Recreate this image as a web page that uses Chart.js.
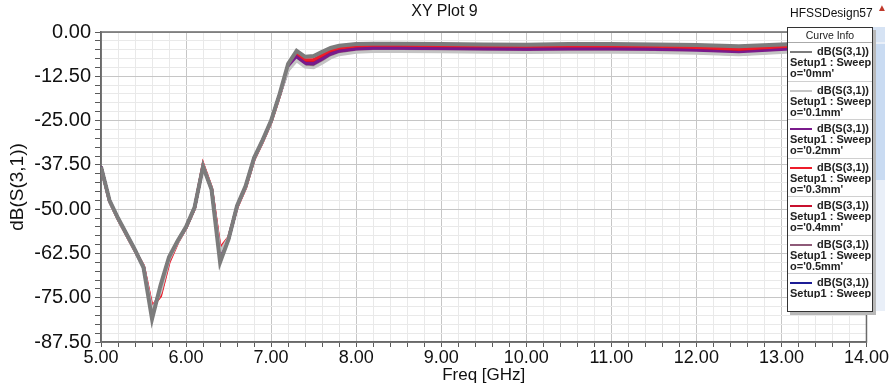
<!DOCTYPE html>
<html>
<head>
<meta charset="utf-8">
<script src="https://cdn.jsdelivr.net/npm/chart.js@4.4.1/dist/chart.umd.min.js"></script>
<style>
  body { margin: 0; background: #fff; font-family: "Liberation Sans", Arial, sans-serif; }
  #wrap { position: relative; width: 889px; height: 386px; overflow: hidden; }
  #myChart { position: absolute; left: 0; top: 0; }
  #plotTitle { position: absolute; left: 0; width: 889px; top: 2px; text-align: center; font-size: 16px; color: #111; }
  #designName { position: absolute; left: 790px; top: 6px; font-size: 12px; color: #111; }
  #warn { position: absolute; left: 877px; top: 2px; font-size: 10px; color: #c0392b; }
  #legendBox { position: absolute; left: 787px; top: 27px; width: 84px; height: 283px; background: #fff;
               border: 1px solid #333; box-shadow: 3px 3px 0 #b8b8b8; overflow: hidden; }
  #legendBox .head { height: 14px; line-height: 14px; text-align: center; font-size: 10.5px; color: #222;
                     border-bottom: 1px solid #aaa; }
  #legendInner { height: 255px; overflow: hidden; }
  #legendBox .entry { box-sizing: border-box; height: 38.5px; border-bottom: 1px solid #d0d0d0; padding: 3px 1px 0 2px;
                      font-size: 11px; font-weight: bold; color: #222; line-height: 11px; white-space: nowrap; overflow: hidden; }
  #legendBox .l1 { text-align: right; padding-right: 2px; }
  #legendBox .swatch { display: inline-block; width: 22px; height: 2px; float: left; margin-top: 5px; }
  #scrollTrack { position: absolute; left: 873px; top: 27px; width: 12px; height: 284px; background: #e9eff8; }
  #scrollThumb { position: absolute; left: 873px; top: 44px; width: 12px; height: 136px; background: #c9dbf2; }
  #scrollUp { position: absolute; left: 873px; top: 27px; width: 12px; height: 15px; background: #d6e3f4; }
</style>
</head>
<body>
<div id="wrap">
  <canvas id="myChart" width="889" height="386"></canvas>
  <div id="plotTitle">XY Plot 9</div>
  <div id="designName">HFSSDesign57</div>
  <div id="warn">▲</div>
  <div id="scrollTrack"></div>
  <div id="scrollUp"></div>
  <div id="scrollThumb"></div>
  <div id="legendBox"><div class="head">Curve Info</div><div id="legendInner"></div></div>
</div>
<script>
// frequency points [GHz]
var freqs = [5.0, 5.1, 5.2, 5.3, 5.4, 5.5, 5.6, 5.7, 5.8, 5.9, 6.0, 6.1, 6.2, 6.3, 6.4, 6.5, 6.6, 6.7, 6.8, 6.9,
             7.0, 7.1, 7.2, 7.3, 7.4, 7.5, 7.6, 7.7, 7.8, 8.0, 8.2, 8.5, 9.0, 9.5, 10.0, 10.5, 11.0, 11.5, 12.0, 12.5,
             13.0, 13.5, 14.0];

// dB(S(3,1)) per sweep value o
var s31_0mm  = [-38.0,-47.5,-52.5,-57.0,-61.5,-66.5,-81.0,-71.5,-63.5,-59.0,-55.0,-49.5,-38.0,-44.5,-65.0,-58.5,-49.0,-43.5,-35.5,-30.5,
                -25.0,-17.5,-9.0,-5.3,-7.0,-6.8,-5.6,-4.5,-3.9,-3.4,-3.3,-3.3,-3.4,-3.5,-3.6,-3.4,-3.4,-3.5,-3.7,-4.0,
                -3.5,-3.0,-2.8];
var s31_01mm = [-38.2,-47.9,-52.9,-57.3,-61.9,-66.1,-78.5,-73.5,-64.3,-59.4,-55.2,-49.7,-37.6,-44.1,-62.0,-58.1,-49.3,-43.9,-35.9,-30.9,
                -25.4,-17.9,-10.9,-8.1,-9.9,-10.1,-8.8,-7.3,-6.4,-5.7,-5.5,-5.5,-5.6,-5.7,-5.8,-5.7,-5.7,-5.8,-6.0,-6.4,
                -5.8,-5.1,-4.7];
var s31_02mm = [-38.0,-47.6,-52.6,-57.1,-61.6,-66.3,-79.0,-73.0,-64.0,-59.2,-55.1,-49.6,-37.8,-44.4,-62.5,-58.4,-49.2,-43.7,-35.7,-30.7,
                -25.2,-17.7,-10.3,-7.0,-8.8,-8.9,-7.6,-6.2,-5.4,-4.8,-4.6,-4.6,-4.7,-4.8,-4.9,-4.8,-4.8,-4.9,-5.2,-5.8,
                -5.0,-4.3,-3.9];
var s31_03mm = [-38.2,-47.8,-52.8,-57.3,-61.8,-66.0,-77.5,-74.5,-65.0,-59.5,-55.3,-49.8,-37.3,-44.0,-61.0,-58.0,-49.5,-44.0,-36.0,-31.0,
                -25.5,-18.0,-9.8,-6.0,-7.8,-7.8,-6.5,-5.2,-4.5,-4.0,-3.8,-3.8,-3.9,-4.0,-4.1,-4.0,-4.0,-4.1,-4.4,-4.8,
                -4.2,-3.6,-3.3];
var s31_04mm = [-38.1,-47.7,-52.7,-57.2,-61.7,-66.2,-78.0,-74.0,-64.5,-59.3,-55.2,-49.7,-37.5,-44.2,-61.5,-58.2,-49.3,-43.8,-35.8,-30.8,
                -25.3,-17.8,-10.0,-6.5,-8.3,-8.3,-7.0,-5.7,-5.0,-4.4,-4.2,-4.2,-4.3,-4.4,-4.5,-4.4,-4.4,-4.5,-4.8,-5.2,
                -4.6,-4.0,-3.6];
var s31_05mm = [-38.1,-47.7,-52.7,-57.2,-61.7,-66.3,-79.2,-72.8,-64.0,-59.2,-55.1,-49.6,-37.8,-44.3,-62.8,-58.3,-49.2,-43.7,-35.7,-30.7,
                -25.2,-17.7,-10.7,-7.8,-9.6,-9.8,-8.5,-7.0,-6.1,-5.4,-5.2,-5.2,-5.3,-5.4,-5.5,-5.4,-5.4,-5.5,-5.8,-6.3,
                -5.6,-4.9,-4.5];
var s31_06mm = [-38.0,-47.6,-52.6,-57.1,-61.6,-66.4,-79.5,-72.5,-63.8,-59.1,-55.1,-49.6,-37.9,-44.4,-63.0,-58.4,-49.1,-43.6,-35.6,-30.6,
                -25.1,-17.6,-10.5,-7.4,-9.2,-9.4,-8.1,-6.6,-5.8,-5.1,-4.9,-4.9,-5.0,-5.1,-5.2,-5.1,-5.1,-5.2,-5.5,-6.1,
                -5.3,-4.6,-4.2];

var sweepLabels = ["0mm", "0.1mm", "0.2mm", "0.3mm", "0.4mm", "0.5mm", "0.6mm"];
var seriesList  = [s31_0mm, s31_01mm, s31_02mm, s31_03mm, s31_04mm, s31_05mm, s31_06mm];
var CURVE_COLORS = ["#7c7c7c", "#c4c4c4", "#7a1a8c", "#ee1c2a", "#c8102e", "#8e5a78", "#1c1c96"];
var CURVE_WIDTHS = [4, 3, 3, 3, 3, 3, 3];

var datasets = [];
for (var i in seriesList) {
    var pts = [];
    for (var k in freqs) {
        pts.push({ x: freqs[k], y: seriesList[i][k] });
    }
    datasets.push({
        label: "dB(S(3,1)) Setup1 : Sweep o='" + sweepLabels[i] + "'",
        data: pts,
        borderColor: CURVE_COLORS[i],
        borderWidth: CURVE_WIDTHS[i],
        pointRadius: 0,
        tension: 0,
        fill: false
    });
}

function isMajor(v, step) {
    var r = v / step;
    return Math.abs(r - Math.round(r)) < 1e-6;
}

var frameBorder = {
    id: 'frameBorder',
    beforeDatasetsDraw: function(chart) {
        var a = chart.chartArea, ctx = chart.ctx;
        ctx.save();
        ctx.strokeStyle = '#6a6a6a';
        ctx.lineWidth = 1.5;
        ctx.strokeRect(a.left, a.top, a.right - a.left, a.bottom - a.top);
        ctx.restore();
    }
};

var ctx = document.getElementById('myChart').getContext('2d');
var myChart = new Chart(ctx, {
    type: 'line',
    data: { datasets: datasets },
    plugins: [frameBorder],
    options: {
        responsive: false,
        animation: false,
        layout: { padding: { left: 0, right: 21, top: 32, bottom: 0 } },
        plugins: {
            legend: { display: false },
            tooltip: { enabled: false }
        },
        scales: {
            x: {
                type: 'linear',
                min: 5,
                max: 14,
                ticks: {
                    stepSize: 0.2,
                    autoSkip: false,
                    maxRotation: 0,
                    padding: 0,
                    color: '#111',
                    font: { family: 'Liberation Sans', size: 18 },
                    callback: function(v) { return isMajor(v, 1) ? v.toFixed(2) : ''; }
                },
                grid: {
                    color: function(c) { return isMajor(c.tick.value, 1) ? '#c6c6c6' : '#e9e9e9'; },
                    tickColor: '#5a5a5a',
                    tickLength: 5
                },
                border: { color: '#6a6a6a', width: 1.5 },
                title: {
                    display: true,
                    text: 'Freq [GHz]',
                    color: '#111',
                    font: { family: 'Liberation Sans', size: 17 },
                    padding: { top: 0, bottom: 0 }
                },
                afterFit: function(s) { s.height = 44; }
            },
            y: {
                min: -87.5,
                max: 0,
                ticks: {
                    stepSize: 2.5,
                    autoSkip: false,
                    padding: 4,
                    color: '#111',
                    font: { family: 'Liberation Sans', size: 20 },
                    callback: function(v) { return isMajor(v, 12.5) ? v.toFixed(2) : ''; }
                },
                grid: {
                    color: function(c) { return isMajor(c.tick.value, 12.5) ? '#c6c6c6' : '#e9e9e9'; },
                    tickColor: '#5a5a5a',
                    tickLength: 6
                },
                border: { color: '#6a6a6a', width: 1.5 },
                title: {
                    display: true,
                    text: 'dB(S(3,1))',
                    color: '#111',
                    font: { family: 'Liberation Sans', size: 19 },
                    padding: { top: 6, bottom: 0 }
                },
                afterFit: function(s) { s.width = 101; }
            }
        }
    }
});

// curve info box
var box = document.getElementById('legendInner');
for (var j in sweepLabels) {
    var e = document.createElement('div');
    e.className = 'entry';
    e.innerHTML = '<div class="l1"><span class="swatch" style="background:' + CURVE_COLORS[j] + '"></span>dB(S(3,1))</div>' +
                  '<div>Setup1 : Sweep</div>' +
                  "<div>o='" + sweepLabels[j] + "'</div>";
    box.appendChild(e);
}
</script>
</body>
</html>
